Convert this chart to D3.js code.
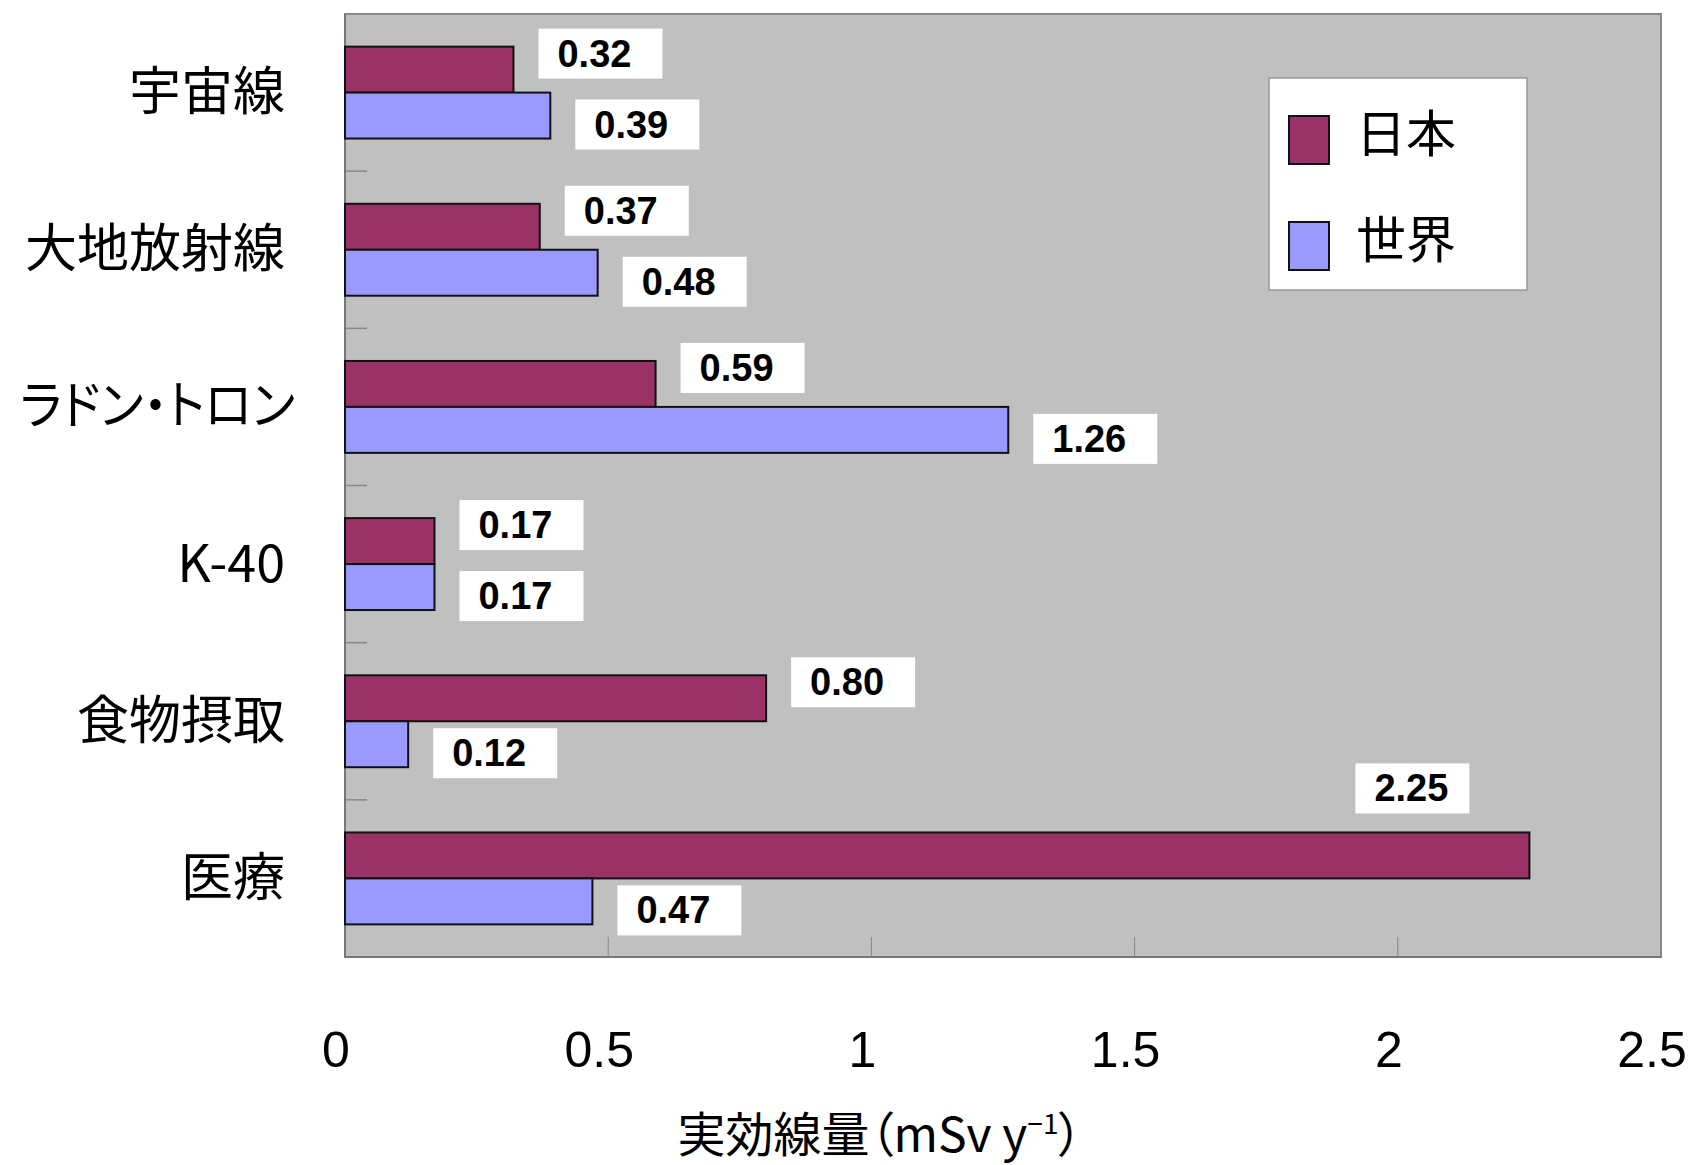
<!DOCTYPE html>
<html>
<head>
<meta charset="utf-8">
<script src="https://cdn.jsdelivr.net/npm/d3@7"></script>
<style>
  html, body { margin: 0; padding: 0; background: #fff; }
  svg { display: block; font-family: "Noto Sans CJK JP", "Noto Sans", sans-serif; }
  .cat, .title { font-feature-settings: "palt"; }
</style>
</head>
<body>
<svg id="chart" width="1688" height="1165"></svg>
<script>
// データ
const categories = ['宇宙線', '大地放射線', 'ラドン・トロン', 'K-40', '食物摂取', '医療'];
const seriesNames = ['日本', '世界'];
const japanValues = [0.32, 0.37, 0.59, 0.17, 0.80, 2.25];
const worldValues = [0.39, 0.48, 1.26, 0.17, 0.12, 0.47];
const xTicks = [0, 0.5, 1, 1.5, 2, 2.5];
const xTitle = '実効線量（mSv y';

const colors = { '日本': '#993366', '世界': '#9999FF' };

const svg = d3.select('#chart');
const plot = { left: 345, right: 1661, top: 14, bottom: 957 };

// スケール
const x = d3.scaleLinear().domain([0, 2.5]).range([plot.left, plot.right]);
const y = d3.scaleBand().domain(categories).range([plot.top, plot.bottom]);
const ySub = d3.scaleBand().domain(seriesNames).range([0, y.bandwidth()]).paddingOuter(0.71);

// 背景
svg.append('rect')
  .attr('x', plot.left).attr('y', plot.top)
  .attr('width', plot.right - plot.left).attr('height', plot.bottom - plot.top)
  .attr('fill', '#C0C0C0')
  .attr('stroke', '#888').attr('stroke-width', 2);

// 目盛り線（内側）
svg.append('g').selectAll('line')
  .data(xTicks.slice(1, -1))
  .join('line')
  .attr('x1', d => x(d)).attr('x2', d => x(d))
  .attr('y1', plot.bottom).attr('y2', plot.bottom - 20)
  .attr('stroke', '#888').attr('stroke-width', 1);

svg.append('g').selectAll('line')
  .data(categories.slice(1))
  .join('line')
  .attr('x1', plot.left).attr('x2', plot.left + 22)
  .attr('y1', d => y(d)).attr('y2', d => y(d))
  .attr('stroke', '#888').attr('stroke-width', 1.5);

// 軸線
svg.append('line')
  .attr('x1', plot.left).attr('x2', plot.left)
  .attr('y1', plot.top).attr('y2', plot.bottom)
  .attr('stroke', '#777').attr('stroke-width', 2);
svg.append('line')
  .attr('x1', plot.left).attr('x2', plot.right)
  .attr('y1', plot.bottom).attr('y2', plot.bottom)
  .attr('stroke', '#777').attr('stroke-width', 2);

// 棒
const rows = [];
categories.forEach((c, i) => {
  rows.push({ cat: c, series: '日本', value: japanValues[i] });
  rows.push({ cat: c, series: '世界', value: worldValues[i] });
});

svg.append('g').selectAll('rect')
  .data(rows)
  .join('rect')
  .attr('x', x(0))
  .attr('y', d => y(d.cat) + ySub(d.series))
  .attr('width', d => x(d.value) - x(0))
  .attr('height', ySub.bandwidth())
  .attr('fill', d => colors[d.series])
  .attr('stroke', '#111').attr('stroke-width', 2);

// データラベル
const boxW = 124, boxH = 50;
const labels = svg.append('g');
rows.forEach(d => {
  const barEnd = x(d.value);
  const barMid = y(d.cat) + ySub(d.series) + ySub.bandwidth() / 2;
  let bx = barEnd + 25;
  let cy = barMid + (d.series === '日本' ? -16 : 9);
  let w = boxW;
  if (bx + w > plot.right) {
    // 右端に収まらない場合は棒の上に置く
    w = 114;
    bx = barEnd - 60 - w;
    cy = barMid - 67;
  }
  labels.append('rect')
    .attr('x', bx).attr('y', cy - boxH / 2)
    .attr('width', w).attr('height', boxH)
    .attr('fill', '#fff');
  labels.append('text')
    .attr('x', bx + 19).attr('y', cy + 13)
    .attr('font-family', '"Liberation Sans", Arial, sans-serif')
    .attr('font-size', 38).attr('font-weight', 'bold')
    .attr('fill', '#000')
    .text(d.value.toFixed(2));
});

// カテゴリラベル
const catText = svg.append('g').selectAll('text')
  .data(categories)
  .join('text')
  .attr('class', 'cat')
  .attr('x', 285)
  .attr('y', d => y(d) + y.bandwidth() / 2 - 5)
  .attr('text-anchor', 'end')
  .attr('dominant-baseline', 'central')
  .attr('font-size', 52)
  .attr('fill', '#000')
  .text(d => d);

// 幅が広すぎるラベルは横方向に詰める
catText.each(function() {
  const len = this.getComputedTextLength();
  if (len > 275) {
    d3.select(this).attr('x', 295)
      .attr('textLength', 275).attr('lengthAdjust', 'spacingAndGlyphs');
  }
});

// x軸ラベル
svg.append('g').selectAll('text')
  .data(xTicks)
  .join('text')
  .attr('x', d => x(d) - 9)
  .attr('y', 1067)
  .attr('text-anchor', 'middle')
  .attr('font-family', '"Liberation Sans", Arial, sans-serif')
  .attr('font-size', 50)
  .attr('fill', '#000')
  .text(d => d);

// 軸タイトル
const title = svg.append('text')
  .attr('class', 'title')
  .attr('x', 880).attr('y', 1152)
  .attr('text-anchor', 'middle')
  .attr('font-size', 48)
  .attr('fill', '#000');
title.append('tspan').text(xTitle);
title.append('tspan').attr('dy', -18).attr('font-size', 28).text('−1');
title.append('tspan').attr('dy', 18).text('）');

// 凡例
const legend = svg.append('g');
legend.append('rect')
  .attr('x', 1269).attr('y', 78).attr('width', 258).attr('height', 212)
  .attr('fill', '#fff').attr('stroke', '#999').attr('stroke-width', 1.5);
const legendY = d3.scalePoint().domain(seriesNames).range([140, 246]);
seriesNames.forEach(s => {
  legend.append('rect')
    .attr('x', 1289).attr('y', legendY(s) - 24)
    .attr('width', 40).attr('height', 48)
    .attr('fill', colors[s]).attr('stroke', '#111').attr('stroke-width', 2);
  legend.append('text')
    .attr('x', 1356).attr('y', legendY(s) - 10)
    .attr('dominant-baseline', 'central')
    .attr('font-size', 50)
    .attr('fill', '#000')
    .text(s);
});
</script>
</body>
</html>
